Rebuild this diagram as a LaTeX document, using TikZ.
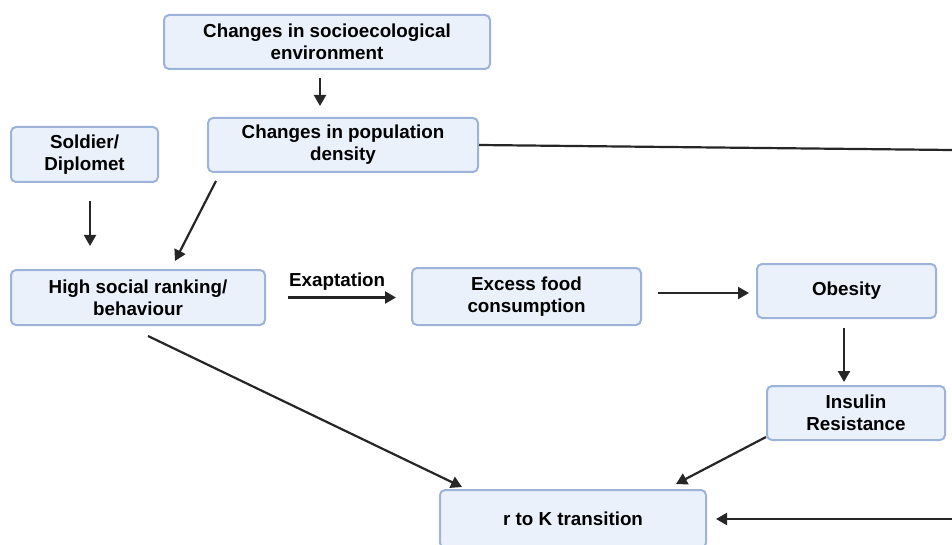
\documentclass[tikz,border=0pt]{standalone}
\usepackage{fontspec}
\setmainfont{Liberation Sans}
\usetikzlibrary{arrows.meta,calc}
\definecolor{boxfill}{HTML}{EAF1FB}
\definecolor{boxline}{HTML}{9DB3DA}
\definecolor{arr}{HTML}{262626}
\tikzset{
  box/.style={draw=boxline, fill=boxfill, line width=2pt, rounded corners=5pt,
    align=center, inner sep=0pt, font=\bfseries\fontsize{18.8}{22}\selectfont, text=black},
  conn/.style={draw=arr, line width=2.2pt, -{Triangle[length=11pt,width=12pt]}},
  plain/.style={draw=arr, line width=2.2pt},
  lbl/.style={font=\bfseries\fontsize{18.8}{22}\selectfont, inner sep=0pt, text=black}
}
\begin{document}
\begin{tikzpicture}[x=1pt,y=-1pt]
\useasboundingbox (0,0) rectangle (952,545);
\node[box, minimum width=326pt, minimum height=54pt] (soc) at (327,42) {Changes in socioecological\\environment};
\node[box, minimum width=270pt, minimum height=54pt] (pop) at (343,145) {Changes in population\\density};
\node[box, minimum width=147pt, minimum height=55pt] (sol) at (84.5,154.5) {Soldier/\\Diplomet};
\node[box, minimum width=254pt, minimum height=55pt] (high) at (138,297.5) {High social ranking/\\behaviour};
\node[box, minimum width=229pt, minimum height=57pt] (food) at (526.5,296.5) {Excess food\\consumption};
\node[box, minimum width=179pt, minimum height=54pt] (obes) at (846.5,291) {Obesity};
\node[box, minimum width=178pt, minimum height=54pt] (ins) at (856,413) {Insulin\\Resistance};
\node[box, minimum width=266pt, minimum height=58pt] (rk) at (573,519) {r to K transition};
\coordinate (rtop) at (952,150);
\coordinate (rbot) at (952,519);

\draw[conn] ($(soc.south)+(-7,8)$) -- ($(pop.north)+(-23,-11)$);
\draw[conn] ($(sol.south)+(5.5,18)$) -- ($(high.north)+(-48,-23)$);
\draw[conn] ($(pop.south west)+(9,8)$) -- ($(high.north)+(37,-8)$);
\draw[conn] ($(high.east)+(22,0)$) node[lbl, anchor=south west, yshift=6pt] (exap) {Exaptation} -- ($(food.west)+(-15,1)$);
\draw[conn] ($(food.east)+(16,-3.5)$) -- ($(obes.west)+(-7,2)$);
\draw[conn] ($(obes.south)+(-2.5,9)$) -- ($(ins.north)+(-12,-3)$);
\draw[conn] ($(high.south)+(10,10)$) -- ($(rk.north)+(-111,-2)$);
\draw[conn] ($(ins.south west)+(0,-4)$) -- ($(rk.north)+(103,-5)$);
\draw[plain] (pop.east) -- (rtop);
\draw[conn] (rbot) -- ($(rk.east)+(9,0)$);
\end{tikzpicture}
\end{document}
